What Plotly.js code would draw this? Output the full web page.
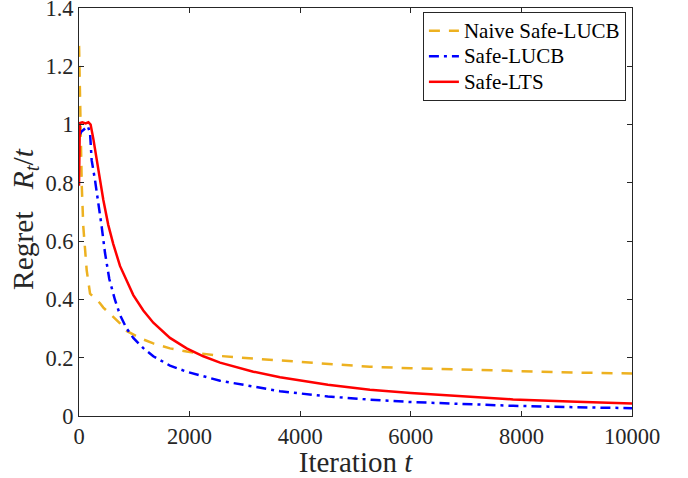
<!DOCTYPE html>
<html>
<head>
<meta charset="utf-8">
<script src="https://cdn.plot.ly/plotly-3.0.1.min.js"></script>
<style>html,body{margin:0;padding:0;background:#fff;}#chart{width:688px;height:478px;}</style>
</head>
<body>
<div id="chart"></div>
<script>
// Naive Safe-LUCB
const naiveT = [1, 10, 20, 35, 50, 78, 139, 200, 290, 380, 440, 620, 741, 862, 1103, 1344, 1645, 1947, 2248, 2550, 3152, 3635, 4500, 5260, 6000, 7020, 8000, 9000, 10000];
const naiveR = [1.27, 1.15, 1.02, 0.9, 0.79, 0.65, 0.5, 0.42, 0.404, 0.387, 0.372, 0.341, 0.318, 0.292, 0.267, 0.249, 0.232, 0.221, 0.213, 0.206, 0.197, 0.19, 0.178, 0.169, 0.164, 0.158, 0.153, 0.149, 0.146];
// Safe-LUCB
const lucbT = [1, 40, 100, 160, 200, 229, 289, 349, 410, 470, 548, 651, 741, 862, 982, 1163, 1343, 1645, 1947, 2550, 3152, 3635, 4500, 5260, 6000, 7020, 7850, 9000, 10000];
const lucbR = [0.96, 0.975, 0.985, 0.995, 0.97, 0.878, 0.81, 0.735, 0.65, 0.56, 0.47, 0.398, 0.347, 0.3, 0.268, 0.233, 0.205, 0.173, 0.152, 0.121, 0.1, 0.085, 0.067, 0.056, 0.048, 0.04, 0.035, 0.03, 0.027];
// Safe-LTS
const ltsT = [0, 5, 15, 60, 120, 170, 210, 260, 320, 380, 440, 530, 620, 741, 892, 982, 1163, 1344, 1645, 1947, 2248, 2550, 3152, 3635, 4500, 5260, 6000, 7020, 7850, 9000, 10000];
const ltsR = [0.79, 0.93, 1.005, 1.008, 1.004, 1.008, 1.0, 0.95, 0.878, 0.81, 0.741, 0.655, 0.59, 0.515, 0.45, 0.415, 0.362, 0.32, 0.268, 0.232, 0.205, 0.183, 0.152, 0.133, 0.107, 0.09, 0.079, 0.066, 0.057, 0.049, 0.043];

const seriesNames = ["Naive Safe-LUCB", "Safe-LUCB", "Safe-LTS"];
const xTicks = [0, 2000, 4000, 6000, 8000, 10000];
const xTickText = ["0", "2000", "4000", "6000", "8000", "10000"];
const yTicks = [0, 0.2, 0.4, 0.6, 0.8, 1, 1.2, 1.4];
const yTickText = ["0", "0.2", "0.4", "0.6", "0.8", "1", "1.2", "1.4"];
const xTitle = "Iteration <i>t</i>";
const yTitle = "Regret&nbsp;&nbsp;&nbsp;<i>R<sub>t</sub></i>/<i>t</i>";

const FONT = "Liberation Serif, Times New Roman, serif";
const AX = "#262626";
const legendLabel = s => '<span style="font-size:21px">' + s + '</span>';

const traces = [
  {x: naiveT, y: naiveR, name: legendLabel(seriesNames[0]), mode: "lines", type: "scatter",
   line: {color: "#EDB120", width: 2.5, dash: "11px,9px"}},
  {x: lucbT, y: lucbR, name: legendLabel(seriesNames[1]), mode: "lines", type: "scatter",
   line: {color: "#0000FF", width: 2.5, dash: "10px,5px,3px,5px"}},
  {x: ltsT, y: ltsR, name: legendLabel(seriesNames[2]), mode: "lines", type: "scatter",
   line: {color: "#FF0000", width: 2.5}}
];

const axisCommon = {
  showgrid: false, zeroline: false, showline: true, linecolor: AX, linewidth: 1,
  mirror: "allticks", ticks: "inside", ticklen: 5, tickcolor: AX, tickwidth: 1,
  ticklabeloverflow: "allow",
  tickfont: {family: FONT, size: 22.5, color: AX}
};

const layout = {
  width: 688, height: 478,
  margin: {l: 79, r: 56, t: 8, b: 62, pad: 0},
  paper_bgcolor: "#fff", plot_bgcolor: "#fff",
  font: {family: FONT, color: AX},
  showlegend: true,
  legend: {
    x: 0.989, y: 0.99, xanchor: "right", yanchor: "top",
    bgcolor: "#fff", bordercolor: AX, borderwidth: 1,
    font: {family: FONT, size: 17.3, color: "#000"},
    tracegroupgap: 0, itemwidth: 30
  },
  xaxis: Object.assign({}, axisCommon, {
    range: [0, 10000], tickvals: xTicks, ticktext: xTickText,
    title: {text: xTitle, font: {family: FONT, size: 29, color: AX}, standoff: 1}
  }),
  yaxis: Object.assign({}, axisCommon, {
    range: [0, 1.4], tickvals: yTicks, ticktext: yTickText
  }),
  annotations: [{
    text: yTitle, xref: "paper", yref: "paper",
    x: -0.0977, y: 0.4828, xanchor: "center", yanchor: "middle",
    textangle: -90, showarrow: false,
    font: {family: FONT, size: 29.5, color: AX}
  }]
};

Plotly.newPlot("chart", traces, layout, {displayModeBar: false, staticPlot: true});
</script>
</body>
</html>
